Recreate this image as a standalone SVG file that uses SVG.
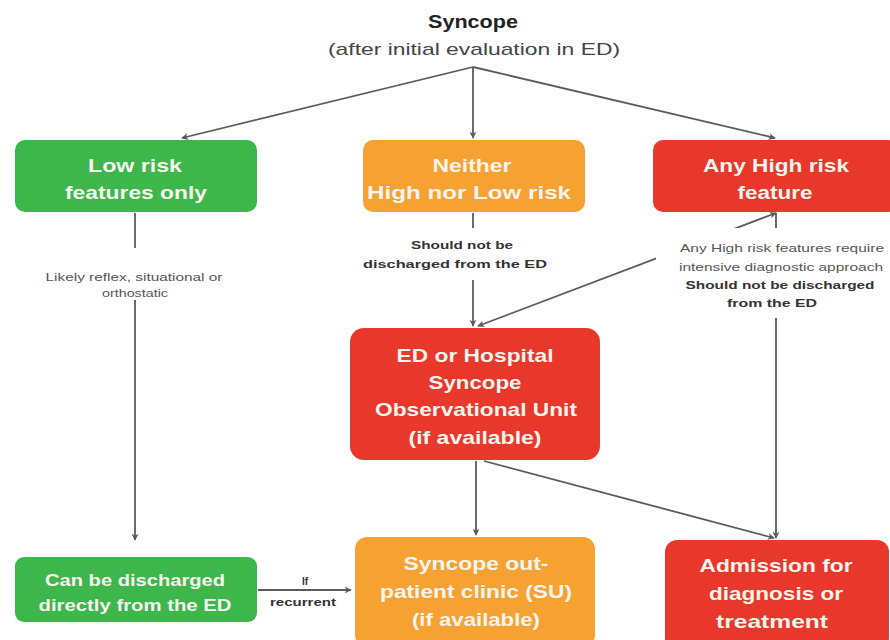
<svg xmlns="http://www.w3.org/2000/svg" width="890" height="640" viewBox="0 0 890 640">
<style>
.box text{font-family:"Liberation Sans",Arial,sans-serif;font-weight:bold;fill:#f6f4ee;text-anchor:middle;font-size:19px}
.green{fill:#3db64b}
.orange{fill:#f5a232}
.red{fill:#e8382b}
.lbl{font-family:"Liberation Sans",Arial,sans-serif;text-anchor:middle;fill:#444}
.sm{font-size:10.5px;fill:#555}
.smb{font-size:11px;font-weight:bold;fill:#333}
.conn line{stroke:#5a5a5a;stroke-width:1.8}
</style>
<defs>
<marker id="ah" viewBox="0 0 10 10" refX="9" refY="5" markerWidth="7" markerHeight="7" orient="auto-start-reverse" markerUnits="userSpaceOnUse">
<path d="M0,0 L10,5 L0,10 L3,5 Z" fill="#5a5a5a"/>
</marker>
</defs>
<rect width="890" height="640" fill="#ffffff"/>

<g id="title">
<text x="473" y="28" class="lbl" style="font-size:18px;font-weight:bold;fill:#222" textLength="90" lengthAdjust="spacingAndGlyphs">Syncope</text>
<text x="474" y="55" class="lbl" style="font-size:17px;fill:#444" textLength="292" lengthAdjust="spacingAndGlyphs">(after initial evaluation in ED)</text>
</g>

<g class="conn" id="connectors">
<line x1="473" y1="67" x2="182" y2="138" marker-end="url(#ah)"/>
<line x1="473" y1="67" x2="473" y2="138" marker-end="url(#ah)"/>
<line x1="473" y1="67" x2="775" y2="138" marker-end="url(#ah)"/>
<line x1="135" y1="213" x2="135" y2="248"/>
<line x1="135" y1="300" x2="135" y2="540" marker-end="url(#ah)"/>
<line x1="473" y1="213" x2="473" y2="228"/>
<line x1="473" y1="280" x2="473" y2="326" marker-end="url(#ah)"/>
<line x1="776" y1="213" x2="776" y2="228"/>
<line x1="776" y1="318" x2="776" y2="538" marker-end="url(#ah)"/>
<line x1="776" y1="213" x2="478" y2="326" marker-start="url(#ah)" marker-end="url(#ah)"/>
<line x1="476" y1="461" x2="476" y2="535" marker-end="url(#ah)"/>
<line x1="484" y1="461" x2="774" y2="538" marker-end="url(#ah)"/>
<line x1="258" y1="590" x2="351" y2="590" marker-end="url(#ah)"/>
</g>

<g id="labels">
<rect x="656" y="228" width="236" height="88" fill="#ffffff"/>
<text class="lbl sm" x="134" y="281" textLength="177" lengthAdjust="spacingAndGlyphs">Likely reflex, situational or</text>
<text class="lbl sm" x="135" y="297" textLength="66" lengthAdjust="spacingAndGlyphs">orthostatic</text>
<text class="lbl smb" x="462" y="249" textLength="102" lengthAdjust="spacingAndGlyphs">Should not be</text>
<text class="lbl smb" x="455" y="268" textLength="184" lengthAdjust="spacingAndGlyphs">discharged from the ED</text>
<text class="lbl sm" x="782" y="252" textLength="204" lengthAdjust="spacingAndGlyphs">Any High risk features require</text>
<text class="lbl sm" x="781" y="271" textLength="204" lengthAdjust="spacingAndGlyphs">intensive diagnostic approach</text>
<text class="lbl smb" x="780" y="289" textLength="189" lengthAdjust="spacingAndGlyphs">Should not be discharged</text>
<text class="lbl smb" x="772" y="307" textLength="90" lengthAdjust="spacingAndGlyphs">from the ED</text>
<text class="lbl smb" x="305" y="585" style="font-size:10px">If</text>
<text class="lbl smb" x="303" y="606" style="font-size:10px" textLength="66" lengthAdjust="spacingAndGlyphs">recurrent</text>
</g>

<g id="low-risk" class="box">
<rect class="green" x="15" y="140" width="242" height="72" rx="10"/>
<text x="135" y="172" textLength="94" lengthAdjust="spacingAndGlyphs">Low risk</text>
<text x="136" y="199" textLength="142" lengthAdjust="spacingAndGlyphs">features only</text>
</g>
<g id="neither" class="box">
<rect class="orange" x="363" y="140" width="222" height="72" rx="10"/>
<text x="472" y="172" textLength="79" lengthAdjust="spacingAndGlyphs">Neither</text>
<text x="469" y="199" textLength="204" lengthAdjust="spacingAndGlyphs">High nor Low risk</text>
</g>
<g id="high-risk" class="box">
<rect class="red" x="653" y="140" width="245" height="72" rx="10"/>
<text x="776" y="172" textLength="146" lengthAdjust="spacingAndGlyphs">Any High risk</text>
<text x="775" y="199" textLength="75" lengthAdjust="spacingAndGlyphs">feature</text>
</g>
<g id="observational-unit" class="box">
<rect class="red" x="350" y="328" width="250" height="132" rx="14"/>
<text x="475" y="362" textLength="157" lengthAdjust="spacingAndGlyphs">ED or Hospital</text>
<text x="475" y="389" textLength="93" lengthAdjust="spacingAndGlyphs">Syncope</text>
<text x="476" y="416" textLength="202" lengthAdjust="spacingAndGlyphs">Observational Unit</text>
<text x="475" y="444" textLength="133" lengthAdjust="spacingAndGlyphs">(if available)</text>
</g>
<g id="discharge" class="box">
<rect class="green" x="15" y="557" width="242" height="65" rx="9"/>
<text x="135" y="586" style="font-size:17px" textLength="180" lengthAdjust="spacingAndGlyphs">Can be discharged</text>
<text x="135" y="611" style="font-size:17px" textLength="193" lengthAdjust="spacingAndGlyphs">directly from the ED</text>
</g>
<g id="outpatient" class="box">
<rect class="orange" x="355" y="537" width="240" height="110" rx="12"/>
<text x="476" y="570" textLength="145" lengthAdjust="spacingAndGlyphs">Syncope out-</text>
<text x="476" y="598" textLength="192" lengthAdjust="spacingAndGlyphs">patient clinic (SU)</text>
<text x="476" y="626" textLength="128" lengthAdjust="spacingAndGlyphs">(if available)</text>
</g>
<g id="admission" class="box">
<rect class="red" x="665" y="540" width="224" height="110" rx="12"/>
<text x="776" y="572" textLength="153" lengthAdjust="spacingAndGlyphs">Admission for</text>
<text x="776" y="600" textLength="134" lengthAdjust="spacingAndGlyphs">diagnosis or</text>
<text x="772" y="628" textLength="112" lengthAdjust="spacingAndGlyphs">treatment</text>
</g>
</svg>
